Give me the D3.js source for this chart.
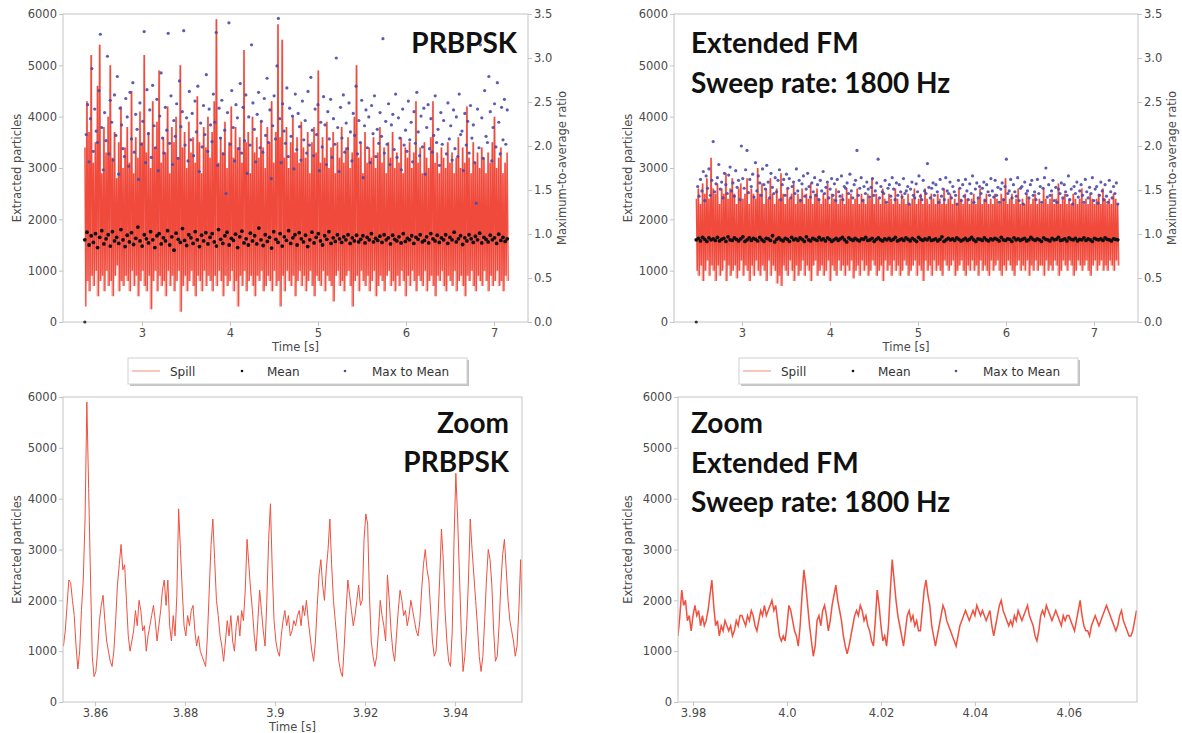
<!DOCTYPE html>
<html>
<head>
<meta charset="utf-8">
<script src="https://cdn.jsdelivr.net/npm/d3@7"></script>
<style>
  body { margin: 0; background: #fff; }
  svg { display: block; }
  text { font-family: "DejaVu Sans", sans-serif; }
</style>
</head>
<body>
<div id="chart"></div>
<script>
// ---------- data ----------
// full spill, PRBPSK: peak / trough pairs from 2.35 s to 7.15 s
var prbTime = [2.35, 7.15];
var prbHigh = [
  3400,4300,3700,5200,3100,3500,4600,5400,2900,3800, 3300,4000,5000,3200,3700,2800,3500,4200,3000,3400,
  3800,3100,4500,2900,3600,3200,4100,3500,5200,3300, 3700,3000,4300,3400,3900,4900,3100,3600,3300,4200,
  2900,3800,3500,4000,3200,5000,3400,3700,3000,3900, 3300,3600,3100,4400,3500,2900,3800,3400,4000,3200,
  3700,4300,5900,3100,3600,3300,3900,3000,3500,4200, 3200,3800,3400,3600,3100,5300,3500,3700,2900,4000,
  3300,3600,3200,3900,3400,3000,3800,3500,4300,3100, 3700,5800,3600,5500,3200,3800,3000,3500,4000,3300,
  3600,3100,3900,3400,3200,3700,2900,3500,3800,3300, 4900,3100,3600,3200,3900,3000,3400,3700,2900,3500,
  3200,3800,3100,3400,3600,3000,3300,4000,5000,3200, 3500,2900,3700,3100,3400,3200,3600,3000,3300,3800,
  3100,3400,2900,3500,3200,3700,3000,3300,3100,3600, 2900,3400,3200,3500,3000,3300,4300,3100,3400,2900,
  3500,3200,3000,3600,4300,3100,3300,2900,3400,3200, 3000,3500,3100,3300,2900,3200,3600,3000,3400,3100,
  4200,3200,2900,3500,3100,3300,3000,3400,3200,2900, 3300,3100,3500,4000,3000,3200,3400,2900,3100,3300
];
var prbLow = [
  300,800,600,900,700,1000,500,800,900,600, 1000,700,800,500,900,1100,600,800,700,900,
  800,600,1000,700,900,500,800,1000,700,600, 900,250,800,1000,600,900,700,800,500,1000,
  700,900,600,800,1000,200,700,900,600,800, 1000,700,500,900,800,600,1000,700,900,800,
  600,900,700,1000,800,500,900,700,800,1000, 600,800,300,900,700,1000,600,800,900,700,
  500,900,800,1000,600,700,900,800,600,1000, 700,800,300,900,600,1000,800,700,900,500,
  800,1000,700,900,600,800,1000,700,500,900, 800,700,1000,600,900,800,700,400,900,1000,
  700,800,600,900,1000,700,300,800,900,600, 1000,800,700,900,600,800,1000,500,700,900,
  800,600,900,1000,700,800,600,900,700,1000, 800,500,900,700,1000,800,600,900,800,700,
  1000,600,800,900,700,500,900,800,1000,700, 600,900,800,700,1000,600,800,900,700,500,
  900,800,1000,700,600,900,800,700,1000,800, 600,900,700,800,1000,700,800,600,900,800
];
var prbMean = [
  1600,1750,1500,1680,1550,1720,1450,1650,1780,1520, 1620,1700,1480,1760,1580,1650,1530,1800,1600,1470,
  1690,1560,1740,1510,1630,1850,1580,1480,1700,1620, 1540,1760,1600,1450,1680,1720,1520,1640,1580,1780,
  1500,1660,1400,1730,1610,1550,1820,1590,1490,1700, 1640,1530,1760,1600,1470,1690,1580,1740,1520,1650,
  1720,1560,1480,1800,1610,1530,1680,1750,1500,1630, 1590,1710,1450,1660,1770,1540,1620,1500,1730,1580,
  1680,1520,1830,1600,1490,1700,1570,1650,1440,1760, 1610,1550,1720,1480,1660,1590,1780,1530,1640,1700,
  1500,1740,1620,1560,1690,1470,1600,1750,1540,1650, 1720,1580,1500,1680,1610,1760,1530,1640,1570,1700,
  1620,1550,1660,1600,1700,1530,1640,1580,1690,1560, 1610,1680,1540,1650,1600,1720,1560,1630,1590,1670,
  1550,1700,1600,1640,1520,1690,1610,1580,1660,1540, 1720,1570,1630,1600,1680,1530,1650,1610,1700,1560,
  1590,1660,1540,1720,1620,1580,1690,1550,1640,1600, 1700,1530,1650,1600,1750,1560,1620,1680,1510,1640,
  1580,1700,1620,1550,1670,1600,1730,1540,1650,1610, 1560,1690,1600,1640,1530,1710,1590,1650,1570,1620
];
var prbRatio = [
  0.0,2.13,2.47,1.82,2.31,2.88,1.94,2.42,2.17,2.04, 2.63,3.27,2.21,1.73,2.38,2.06,3.02,1.91,2.52,2.27,
  1.84,2.58,2.12,2.79,1.68,2.43,2.24,1.97,1.88,2.54, 2.33,1.77,2.61,2.08,2.72,1.93,2.36,2.19,1.62,2.49,
  2.02,2.28,3.30,1.81,2.64,2.14,2.41,1.87,2.69,2.23, 1.98,2.53,1.72,2.34,2.83,2.09,1.92,2.44,2.18,3.28,
  2.03,2.57,1.79,2.29,2.11,2.48,1.86,2.74,2.22,2.39, 3.31,2.01,2.32,1.83,2.62,2.07,2.37,1.89,2.51,2.16,
  2.68,1.71,2.26,1.99,2.46,2.13,2.81,1.94,2.42,2.24, 2.05,2.59,2.27,3.29,1.78,2.43,2.09,2.52,1.91,2.18,
  1.46,2.38,3.40,2.02,2.63,2.21,1.83,2.47,2.32,1.97, 2.71,1.92,2.44,2.06,2.58,1.69,2.33,2.01,3.15,2.49,
  2.19,1.82,2.36,2.61,1.98,2.28,1.93,2.54,2.12,2.77, 2.04,2.41,1.63,2.23,2.57,2.08,2.91,3.45,2.31,1.81,
  2.48,2.17,2.03,2.66,1.88,2.43,2.11,2.34,1.74,2.59, 1.96,2.37,2.22,1.84,2.51,2.07,2.29,1.92,2.62,2.01,
  2.78,2.18,1.89,2.42,2.13,2.47,1.72,2.27,1.99,2.56, 2.24,1.79,2.39,2.08,2.53,1.87,2.31,2.02,3.00,2.21,
  1.71,2.44,2.09,2.58,1.93,2.26,1.97,2.49,2.16,1.83, 2.37,2.12,2.68,1.91,2.29,2.04,2.52,1.64,2.23,2.41,
  1.98,2.33,1.81,2.46,2.14,2.57,1.88,2.19,2.03,2.38, 2.11,3.22,1.92,2.28,2.02,2.48,1.79,2.24,2.36,1.96,
  2.59,1.87,2.32,2.09,1.73,2.42,2.01,2.18,1.94,2.51, 2.07,2.27,1.82,2.39,2.03,2.61,2.16,1.89,2.34,1.99,
  2.43,1.68,2.21,2.47,1.97,2.31,1.93,2.12,2.57,2.04, 2.19,1.78,2.38,2.02,2.29,3.10,1.91,2.49,2.08,2.23,
  1.84,2.41,1.97,2.33,1.88,2.59,2.13,2.17,1.72,2.37, 2.01,2.28,1.92,2.46,2.09,2.24,1.81,1.35,2.42,1.98,
  3.15,2.32,1.86,2.63,2.11,2.04,2.79,2.39,1.83,2.21, 2.48,1.99,2.72,2.27,1.91,2.44,2.07,2.53,2.02,2.41
];

// full spill, extended FM: 2.48 s to 7.27 s
var fmTime = [2.48, 7.27];
var fmHigh = [
  2400,2600,2300,2700,2500,2800,2400,3200,2600,2500, 2700,2300,2600,2500,2900,2400,2600,2800,2500,2300,
  2600,2700,2400,2500,2800,2300,2600,2500,2400,3000, 2500,2700,2300,2600,2400,2800,2500,2300,2600,2400,
  2900,2500,2300,2600,2400,2500,2700,2300,2500,2400, 2600,2300,2500,2400,2700,2300,2500,2600,2400,2300,
  2500,2400,2700,2300,2500,2400,2600,2300,2400,2500, 2300,2600,2400,2500,2300,2400,2600,2300,2500,2400,
  2300,2500,2400,2800,2300,2500,2400,2300,2600,2400, 2300,2500,2400,2300,2600,2400,2300,2500,2400,2300,
  2500,2300,2400,2600,2300,2400,2500,2300,2600,2400, 2300,2500,2400,2300,2500,2400,2300,2600,2300,2400,
  2500,2300,2400,2300,2600,2400,2300,2500,2400,2300, 2400,2500,2300,2400,2600,2300,2400,2500,2300,2400,
  2300,2500,2400,2300,2500,2400,2800,2300,2400,2500, 2300,2400,2600,2300,2400,2300,2500,2400,2300,2400,
  2500,2300,2400,2300,2600,2400,2300,2400,2500,2300, 2400,2700,2300,2400,2500,2300,2400,2300,2500,2400,
  2300,2400,2600,2300,2400,2300,2500,2400,2300,2400, 2500,2300,2600,2400,2300,2400,2300,2500,2400,2300
];
var fmLow = [
  1000,900,1100,800,1000,1200,900,1100,1000,800, 1100,900,1000,1200,800,1100,900,1000,1100,850,
  1000,1200,900,1100,1000,800,1100,900,1200,1000, 900,1100,1000,800,1200,900,1100,1000,750,900,
  700,1100,1000,900,1200,1000,800,1100,900,1000, 1200,900,1100,1000,800,1100,1200,900,1000,1100,
  900,1000,1200,800,1100,1000,900,1200,1000,1100, 900,1100,1000,1200,850,1000,1100,900,1200,1000,
  1100,900,1000,1200,1100,900,1000,1100,800,1200, 1000,1100,900,1200,1000,1100,900,1000,1200,1100,
  900,1000,1100,1200,900,1100,1000,800,1200,1000, 1100,900,1200,1000,1100,1000,900,1200,1100,1000,
  1100,1200,900,1000,1100,1200,1000,900,1100,1000, 1200,1000,1100,900,1200,1000,1100,1000,900,1200,
  1000,1100,1200,1000,900,1100,1000,1200,1100,1000, 900,1100,1200,1000,1100,1000,1200,900,1100,1000,
  1200,1000,1100,1100,900,1200,1000,1100,1000,1200, 1100,900,1000,1200,1100,1000,1200,1100,900,1000,
  1200,1100,1000,1100,1200,1000,900,1100,1200,1000, 1100,1200,1000,1100,1000,1200,1100,1000,1200,1100
];
var fmMean = [
  1600,1630,1580,1650,1610,1570,1640,1600,1620,1590, 1650,1580,1610,1630,1570,1660,1600,1590,1640,1610,
  1580,1620,1660,1570,1600,1640,1590,1630,1610,1580, 1650,1600,1570,1630,1620,1590,1680,1560,1610,1640,
  1600,1580,1630,1610,1570,1650,1600,1620,1590,1640, 1610,1570,1660,1600,1580,1630,1610,1590,1650,1600,
  1620,1580,1640,1610,1570,1600,1630,1590,1620,1650, 1600,1560,1640,1610,1590,1630,1600,1580,1620,1610,
  1650,1590,1600,1630,1570,1610,1640,1600,1580,1620, 1600,1630,1590,1610,1650,1580,1600,1620,1590,1640,
  1610,1580,1630,1600,1570,1650,1610,1590,1620,1600, 1640,1590,1600,1620,1580,1610,1660,1570,1600,1630,
  1600,1620,1590,1640,1610,1580,1600,1630,1590,1610, 1650,1600,1570,1620,1610,1590,1640,1600,1580,1620,
  1600,1630,1610,1580,1650,1600,1590,1620,1610,1570, 1640,1600,1620,1590,1610,1630,1580,1600,1650,1610,
  1590,1620,1600,1570,1640,1610,1600,1580,1630,1600, 1610,1650,1590,1600,1620,1580,1640,1610,1600,1630,
  1580,1610,1600,1640,1590,1620,1600,1570,1630,1610, 1600,1620,1590,1640,1610,1600,1580,1620,1610,1600
];
var fmRatio = [
  0.0,1.54,1.43,1.62,1.49,1.71,1.38,1.66,1.52,1.74, 1.44,1.61,2.05,1.48,1.57,1.64,1.79,1.51,1.59,1.41,
  1.69,1.56,1.46,1.67,1.76,1.49,1.58,1.43,1.72,1.53, 1.61,1.39,2.00,1.63,1.52,1.73,1.95,1.47,1.62,1.54,
  1.68,1.42,1.81,1.49,1.66,1.58,1.44,1.74,1.56,1.51, 1.78,1.59,1.41,1.69,1.53,1.46,1.64,1.48,1.61,1.73,
  1.39,1.56,1.62,1.44,1.68,1.52,1.63,1.41,1.54,1.59, 1.46,1.74,1.49,1.61,1.38,1.57,1.66,1.43,1.51,1.69,
  1.54,1.42,1.58,1.48,1.64,1.44,1.56,1.39,1.61,1.49, 1.71,1.46,1.53,1.59,1.41,1.51,1.63,1.44,1.57,1.38,
  1.62,1.48,1.43,1.66,1.39,1.54,1.52,1.58,1.46,1.68, 1.49,1.41,1.56,1.61,1.95,1.44,1.52,1.64,1.38,1.54,
  1.46,1.59,1.51,1.42,1.53,1.63,1.44,1.49,1.58,1.85, 1.41,1.54,1.48,1.46,1.61,1.36,1.52,1.56,1.43,1.64,
  1.51,1.39,1.58,1.44,1.56,1.48,1.42,1.63,1.46,1.49, 1.54,1.34,1.51,1.59,1.44,1.41,1.57,1.48,1.66,1.43,
  1.39,1.61,1.49,1.46,1.80,1.53,1.41,1.52,1.58,1.44, 1.56,1.48,1.36,1.62,1.43,1.51,1.39,1.64,1.49,1.46,
  1.59,1.41,1.54,1.48,1.44,1.34,1.61,1.52,1.38,1.56, 1.43,1.62,1.49,1.39,1.57,1.46,1.66,1.36,1.51,1.58,
  1.41,1.54,1.46,1.52,1.59,1.38,1.56,1.48,1.44,1.63, 1.49,1.42,1.61,1.44,1.53,1.36,1.51,1.58,1.39,1.54,
  1.85,1.46,1.49,1.62,1.41,1.56,1.48,1.43,1.64,1.38, 1.52,1.54,1.34,1.59,1.46,1.49,1.41,1.56,1.61,1.44,
  1.48,1.39,1.62,1.46,1.54,1.36,1.52,1.64,1.75,1.42, 1.56,1.44,1.49,1.61,1.38,1.53,1.36,1.51,1.46,1.58,
  1.41,1.56,1.48,1.44,1.66,1.39,1.51,1.34,1.54,1.46, 1.59,1.42,1.49,1.56,1.44,1.36,1.62,1.48,1.41,1.53,
  1.46,1.64,1.38,1.51,1.54,1.35,1.44,1.59,1.49,1.39, 1.56,1.43,1.36,1.61,1.48,1.41,1.54,1.46,1.58,1.34
];

// zoomed spill, sampled every 0.4 ms
var zoomPrbStart = 3.853;
var zoomPrb = [
  1100,1400,1900,2400,2350,2000,1700,1100,650,1000, 1800,2400,3600,5900,4200,2500,900,500,600,1000,
  1600,1900,2100,1600,1200,1000,800,700,1000,1600, 2300,2700,3100,2600,2700,2000,1300,1000,1200,1400,
  1800,1500,2000,1800,1400,1500,1000,1300,1500,1700, 1900,1600,1200,1500,1800,2200,2400,1900,2400,1500,
  1200,1700,1300,2100,3800,3000,2200,1500,1300,1700, 1500,1800,1900,1400,1100,1300,1000,900,800,700,
  1300,2200,3100,3600,2800,2000,1700,1300,1100,800, 1200,1600,1300,1700,1200,1000,1500,1700,1300,1800,
  1600,2200,3200,2700,2200,1800,1300,1000,1600,2200, 1800,1400,1100,2000,3200,3900,2600,1600,1200,1000,
  900,1300,1600,1800,1500,1700,1300,1400,1600,1500, 1700,1800,1500,1900,1700,2000,1600,1300,1000,800,
  1200,1900,2500,2800,2300,2000,2600,3000,3600,2700, 2000,1600,1200,800,600,500,1100,1800,2400,2100,
  1800,1500,1700,2000,2300,1900,2000,3200,3700,3500, 2100,1200,900,700,900,1400,2000,1700,1500,1200,
  2500,2000,1400,1000,800,1300,1800,2200,2000,1700, 1800,1500,1700,2000,1800,1600,1400,1300,1600,2200,
  2700,3000,2600,2400,1800,1200,900,1000,1600,2400, 3400,2800,1800,1200,800,700,1400,3200,4500,3600,
  2500,1400,600,900,1500,2400,3600,3000,2500,2000, 1500,900,600,900,1600,2400,3000,2800,2300,1400,
  800,900,1500,2300,2900,3200,2600,2000,1600,1400, 1200,900,1100,1800,2800,1600
];
var zoomFmStart = 3.9768;
var zoomFm = [
  1300,1700,2200,1900,2000,1600,1700,1400,1700,1900, 1700,1800,1500,1700,1500,1600,1800,2100,2400,1900,
  1500,1600,1300,1500,1400,1600,1500,1400,1500,1300, 1400,1600,1500,1700,1700,1600,1500,1700,1600,1800,
  1700,1500,1400,1600,1800,1700,1900,1700,1800,1900, 2000,1800,1900,1600,1300,1200,1300,1200,1500,1900,
  1800,1600,1400,1300,1100,1500,2100,2600,2300,1900, 1500,1200,900,1100,1600,1700,1500,1800,1900,1700,
  1400,1600,1900,2100,2300,2000,1800,1600,1300,1100, 950,1100,1300,1500,1700,1800,1700,1900,1800,1600,
  1700,1500,1400,1200,1100,1600,2200,1900,1500,1200, 1300,1100,1500,2200,2800,2400,2000,1700,1500,1300,
  1100,1400,1700,1800,1600,1700,1500,1600,1400,1400, 1800,2200,2400,2100,1900,1500,1300,1100,1300,1500,
  1700,1900,1800,1600,1500,1400,1300,1200,1100,1300, 1500,1600,1700,1800,1700,1600,1700,1800,1700,1900,
  1800,1700,1800,1700,1600,1700,1800,1500,1300,1500, 1700,1900,2000,1800,1700,1600,1500,1600,1500,1700,
  1600,1800,1700,1600,1700,1800,1900,1700,1600,1500, 1300,1200,1400,1700,1800,1700,1900,1800,1700,1600,
  1700,1800,1700,1600,1500,1700,1600,1700,1700,1600, 1500,1400,1600,1800,2000,1700,1500,1400,1400,1300,
  1500,1600,1700,1600,1500,1600,1700,1800,1900,1800, 1700,1600,1500,1400,1500,1700,1800,1600,1500,1400,
  1300,1300,1400,1600,1800
];
var zoomDt = 0.0004;

var countTicks = [0, 1000, 2000, 3000, 4000, 5000, 6000];
var ratioTicks = [0, 0.5, 1.0, 1.5, 2.0, 2.5, 3.0, 3.5];
var fullTimeTicks = [3, 4, 5, 6, 7];
var zoomPrbTicks = [3.86, 3.88, 3.9, 3.92, 3.94];
var zoomPrbTickLabels = ["3.86", "3.88", "3.9", "3.92", "3.94"];
var zoomFmTicks = [3.98, 4.0, 4.02, 4.04, 4.06];
var zoomFmTickLabels = ["3.98", "4.0", "4.02", "4.04", "4.06"];
var legendItems = ["Spill", "Mean", "Max to Mean"];

// ---------- drawing ----------
var spillColor = "#ee3a2a";
var zoomColor = "#f0503f";
var ratioColor = "#4b4aa8";
var tickColor = "#4a4a4a";
var frameColor = "#c4c4c4";

var svg = d3.select("#chart").append("svg")
    .attr("width", 1182)
    .attr("height", 733);

function makePanel(p) {
    var x = d3.scaleLinear().domain(p.xDomain).range([p.left, p.right]);
    var y = d3.scaleLinear().domain([0, 6000]).range([p.bottom, p.top]);
    var g = svg.append("g");

    var clipId = "clip" + p.id;
    svg.append("clipPath").attr("id", clipId)
        .append("rect")
        .attr("x", p.left).attr("y", p.top)
        .attr("width", p.right - p.left).attr("height", p.bottom - p.top);
    var plot = g.append("g").attr("clip-path", "url(#" + clipId + ")");

    // frame
    g.append("rect")
        .attr("x", p.left).attr("y", p.top)
        .attr("width", p.right - p.left).attr("height", p.bottom - p.top)
        .attr("fill", "none").attr("stroke", frameColor);

    var left_axis = d3.axisLeft(y).tickValues(countTicks).tickSize(4).tickPadding(2)
        .tickFormat(d3.format("d"));
    var bottom_axis = d3.axisBottom(x).tickValues(p.xTicks).tickSize(4).tickPadding(3)
        .tickFormat(function(d, i){ return p.xTickLabels[i]; });

    var la = g.append("g").attr("transform", "translate(" + p.left + ",0)").call(left_axis);
    var ba = g.append("g").attr("transform", "translate(0," + p.bottom + ")").call(bottom_axis);
    [la, ba].forEach(function(a){
        a.select(".domain").remove();
        a.selectAll("line").attr("stroke", frameColor);
        a.selectAll("text").attr("fill", tickColor)
            .style("font-family", "DejaVu Sans").style("font-size", "11.5px");
    });

    g.append("text")
        .attr("transform", "translate(" + p.yLabelX + "," + ((p.top + p.bottom) / 2) + ") rotate(-90)")
        .attr("text-anchor", "middle")
        .attr("fill", tickColor)
        .style("font-size", "11.5px")
        .text("Extracted particles");

    if (p.xLabel) {
        g.append("text")
            .attr("x", (p.left + p.right) / 2)
            .attr("y", p.bottom + 29)
            .attr("text-anchor", "middle")
            .attr("fill", tickColor)
            .style("font-size", "11.5px")
            .text("Time [s]");
    }
    return { g: g, plot: plot, x: x, y: y };
}

function drawFull(p) {
    var P = makePanel(p);
    var t0 = p.time[0], t1 = p.time[1];
    var dt = (t1 - t0) / (p.high.length - 1);

    // light band between each trough and peak, then the spill trace over it
    var band = d3.area()
        .curve(d3.curveStep)
        .x((d, i) => P.x(t0 + i * dt))
        .y0((d, i) => P.y(p.low[i]))
        .y1(d => P.y(d));
    P.plot.append("path")
        .datum(p.high)
        .attr("d", band)
        .attr("fill", spillColor)
        .attr("opacity", 0.45);

    var pts = [];
    p.high.forEach(function(h, i){
        pts.push([t0 + i * dt, h]);
        pts.push([t0 + (i + 0.5) * dt, p.low[i]]);
    });
    var line = d3.line().x(d => P.x(d[0])).y(d => P.y(d[1]));
    P.plot.append("path")
        .datum(pts)
        .attr("d", line)
        .attr("fill", "none")
        .attr("stroke", spillColor)
        .attr("stroke-opacity", 0.85)
        .attr("stroke-width", 1.3);

    var yr = d3.scaleLinear().domain([0, 3.5]).range([p.bottom, p.top]);
    var right_axis = d3.axisRight(yr).tickValues(ratioTicks).tickSize(4).tickPadding(2)
        .tickFormat(d3.format(".1f"));
    var ra = P.g.append("g").attr("transform", "translate(" + p.right + ",0)").call(right_axis);
    ra.select(".domain").remove();
    ra.selectAll("line").attr("stroke", frameColor);
    ra.selectAll("text").attr("fill", tickColor)
        .style("font-family", "DejaVu Sans").style("font-size", "11.5px");

    P.g.append("text")
        .attr("transform", "translate(" + (p.right + 38) + "," + ((p.top + p.bottom) / 2) + ") rotate(-90)")
        .attr("text-anchor", "middle")
        .attr("fill", tickColor)
        .style("font-size", "11.5px")
        .text("Maximum-to-average ratio");

    var dm = (t1 - t0) / (p.mean.length - 1);
    P.plot.selectAll("circle.mean")
        .data(p.mean)
        .enter()
        .append("circle")
        .attr("class", "mean")
        .attr("cx", (d, i) => P.x(t0 + i * dm))
        .attr("cy", d => P.y(d))
        .attr("r", 1.9)
        .attr("fill", "#111");

    var dr = (t1 - t0) / (p.ratio.length - 1);
    P.g.selectAll("circle.ratio" + p.id)
        .data(p.ratio)
        .enter()
        .append("circle")
        .attr("class", "ratio" + p.id)
        .attr("cx", (d, i) => P.x(t0 + i * dr))
        .attr("cy", d => yr(d))
        .attr("r", 1.6)
        .attr("fill", d => d === 0 ? "#222" : ratioColor)
        .attr("opacity", 0.9);

    // legend with shadow
    var lg = P.g.append("g").attr("transform", "translate(" + p.legendX + ",358)");
    lg.append("rect").attr("x", 2).attr("y", 2).attr("width", 339).attr("height", 26)
        .attr("fill", "#9a9a9a").attr("opacity", 0.6);
    lg.append("rect").attr("x", 0).attr("y", 0).attr("width", 339).attr("height", 26)
        .attr("fill", "#fff").attr("stroke", "#d0d0d0");
    lg.append("line").attr("x1", 4).attr("x2", 32).attr("y1", 13).attr("y2", 13)
        .attr("stroke", "#f4a090").attr("stroke-width", 1.2);
    lg.append("circle").attr("cx", 114).attr("cy", 13).attr("r", 1.3).attr("fill", "#111");
    lg.append("circle").attr("cx", 217).attr("cy", 13).attr("r", 1.3).attr("fill", ratioColor);
    var lx = [42, 139, 244];
    legendItems.forEach(function(s, i){
        lg.append("text").attr("x", lx[i]).attr("y", 17.5)
            .attr("fill", "#333").style("font-size", "12px").text(s);
    });
    return P;
}

function drawZoom(p) {
    var P = makePanel(p);
    var line = d3.line()
        .x((d, i) => P.x(p.start + i * zoomDt))
        .y(d => P.y(d));
    P.plot.append("path")
        .datum(p.values)
        .attr("d", line)
        .attr("fill", "none")
        .attr("stroke", zoomColor)
        .attr("stroke-width", p.lineWidth);
    return P;
}

function note(lines, x, anchor, y0, gap) {
    lines.forEach(function(s, i){
        svg.append("text")
            .attr("x", x).attr("y", y0 + i * gap)
            .attr("text-anchor", anchor)
            .attr("fill", "#111")
            .style("font-family", "Lato, sans-serif")
            .style("font-weight", "700")
            .style("font-size", "28px")
            .text(s);
    });
}

drawFull({
    id: "a", left: 63, right: 528, top: 14, bottom: 322,
    xDomain: [2.102, 7.386], xTicks: fullTimeTicks, xTickLabels: ["3","4","5","6","7"],
    yLabelX: 21, xLabel: true, legendX: 128,
    time: prbTime, high: prbHigh, low: prbLow, mean: prbMean, ratio: prbRatio
});
drawFull({
    id: "b", left: 674, right: 1138, top: 14, bottom: 322,
    xDomain: [2.227, 7.5], xTicks: fullTimeTicks, xTickLabels: ["3","4","5","6","7"],
    yLabelX: 632, xLabel: true, legendX: 739,
    time: fmTime, high: fmHigh, low: fmLow, mean: fmMean, ratio: fmRatio
});
drawZoom({
    id: "c", left: 63, right: 522, top: 397, bottom: 702,
    xDomain: [3.8529, 3.9549], xTicks: zoomPrbTicks, xTickLabels: zoomPrbTickLabels,
    yLabelX: 21, xLabel: true,
    start: zoomPrbStart, values: zoomPrb, lineWidth: 1
});
drawZoom({
    id: "d", left: 678, right: 1137, top: 397, bottom: 702,
    xDomain: [3.9768, 4.0745], xTicks: zoomFmTicks, xTickLabels: zoomFmTickLabels,
    yLabelX: 632, xLabel: false,
    start: zoomFmStart, values: zoomFm, lineWidth: 1.5
});

note(["PRBPSK"], 517, "end", 53, 40);
note(["Extended FM", "Sweep rate: 1800 Hz"], 691, "start", 53, 40);
note(["Zoom", "PRBPSK"], 509, "end", 433, 39);
note(["Zoom", "Extended FM", "Sweep rate: 1800 Hz"], 691, "start", 433, 39.5);
</script>
</body>
</html>
